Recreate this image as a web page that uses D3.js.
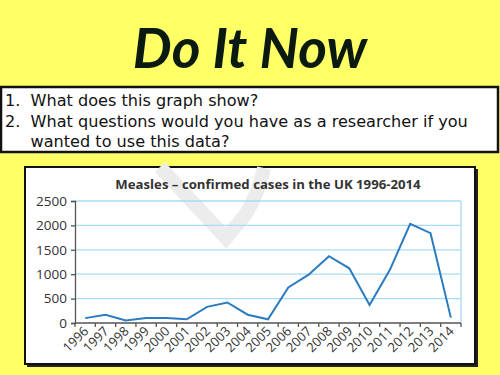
<!DOCTYPE html>
<html>
<head>
<meta charset="utf-8">
<script src="https://cdn.jsdelivr.net/npm/d3@7"></script>
<style>
  body{margin:0;padding:0;background:#ffff66;}
  svg{display:block;}
</style>
</head>
<body>
<svg id="chart"></svg>
<script>
var years = ["1996","1997","1998","1999","2000","2001","2002","2003","2004","2005",
             "2006","2007","2008","2009","2010","2011","2012","2013","2014"];
var cases = [100,170,50,100,100,75,330,420,170,75,730,990,1370,1120,370,1090,2030,1840,110];
var yTicks = [0,500,1000,1500,2000,2500];
var questions = ["1.  What does this graph show?",
                 "2.  What questions would you have as a researcher if you",
                 "     wanted to use this data?"];

var width = 500, height = 375;
var svg = d3.select("#chart")
            .attr("width",width)
            .attr("height",height);

svg.append("rect")
   .attr("width",width).attr("height",height)
   .attr("fill","#ffff66");

// heading
svg.append("text")
   .attr("x",250)
   .attr("y",68)
   .attr("text-anchor","middle")
   .attr("font-family","Lato, 'DejaVu Sans', sans-serif")
   .attr("font-style","italic")
   .attr("font-weight","bold")
   .attr("font-size",55)
   .attr("fill","#0a1a10")
   .text("Do It Now");

// question box
svg.append("rect")
   .attr("x",1).attr("y",87)
   .attr("width",497).attr("height",65)
   .attr("fill","white")
   .attr("stroke","#111")
   .attr("stroke-width",2.5);

svg.selectAll("text.q")
   .data(questions)
   .enter()
   .append("text")
   .classed("q",true)
   .attr("x",5)
   .attr("y",function(d,i){return 106+i*20.5;})
   .attr("font-family","'DejaVu Sans', sans-serif")
   .attr("font-size",16.1)
   .attr("fill","#111")
   .attr("xml:space","preserve")
   .style("white-space","pre")
   .text(function(d){return d;});

// chart box with shadow
svg.append("rect")
   .attr("x",27).attr("y",169)
   .attr("width",451).attr("height",198)
   .attr("fill","#222");
svg.append("rect")
   .attr("x",25).attr("y",167)
   .attr("width",450).attr("height",197)
   .attr("fill","white")
   .attr("stroke","#111")
   .attr("stroke-width",2);

// watermark
svg.append("path")
   .attr("d","M160,167 L226,238 L246,214 Q258,194 264,168")
   .attr("fill","none")
   .attr("stroke","#ececec")
   .attr("stroke-width",14)
   .attr("stroke-linejoin","miter");

var margins = {top:201,bot:323,left:75,right:461};

var xScale = d3.scaleBand()
               .domain(years)
               .range([margins.left,margins.right]);
var yScale = d3.scaleLinear()
               .domain([0,2500])
               .range([margins.bot,margins.top]);

// gridlines
svg.selectAll("line.grid")
   .data(yTicks.slice(1))
   .enter()
   .append("line")
   .classed("grid",true)
   .attr("x1",margins.left).attr("x2",margins.right)
   .attr("y1",function(d){return yScale(d);})
   .attr("y2",function(d){return yScale(d);})
   .attr("stroke","#a6dcf5")
   .attr("stroke-width",1.3);
svg.append("line")
   .attr("x1",margins.right).attr("x2",margins.right)
   .attr("y1",margins.top).attr("y2",margins.bot)
   .attr("stroke","#a6dcf5")
   .attr("stroke-width",1.3);

// title
svg.append("text")
   .attr("x",268)
   .attr("y",189)
   .attr("text-anchor","middle")
   .attr("font-family","'Open Sans', sans-serif")
   .attr("font-weight","bold")
   .attr("font-size",13.2)
   .attr("fill","#333")
   .text("Measles \u2013 confirmed cases in the UK 1996-2014");

// y axis
var yAxis = d3.axisLeft(yScale).tickValues(yTicks).tickFormat(d3.format("d"))
              .tickSize(4).tickPadding(4);
var gy = svg.append("g")
   .attr("transform","translate("+margins.left+",0)")
   .call(yAxis);
gy.select(".domain").attr("stroke","#555").attr("stroke-width",1.3);
gy.selectAll(".tick line").attr("stroke","#555").attr("stroke-width",1.3);
gy.selectAll("text")
  .attr("font-family","'Open Sans', sans-serif")
  .attr("font-size",13.5)
  .attr("fill","#333");

// x axis: ticks at band boundaries
var boundaries = years.map(function(d){return xScale(d);}).concat([margins.right]);
svg.append("line")
   .attr("x1",margins.left).attr("x2",margins.right)
   .attr("y1",margins.bot).attr("y2",margins.bot)
   .attr("stroke","#555").attr("stroke-width",1.3);
svg.selectAll("line.xtick")
   .data(boundaries)
   .enter()
   .append("line")
   .classed("xtick",true)
   .attr("x1",function(d){return d;}).attr("x2",function(d){return d;})
   .attr("y1",margins.bot).attr("y2",margins.bot+4)
   .attr("stroke","#555").attr("stroke-width",1.3);
svg.selectAll("text.xlab")
   .data(years)
   .enter()
   .append("text")
   .classed("xlab",true)
   .attr("text-anchor","end")
   .attr("font-family","'Open Sans', sans-serif")
   .attr("font-size",13)
   .attr("fill","#333")
   .attr("transform",function(d){
     var cx = xScale(d)+xScale.bandwidth()/2+4;
     return "translate("+cx+","+(margins.bot+9)+") rotate(-45)";
   })
   .text(function(d){return d;});

// line
var line = d3.line()
             .x(function(d,i){return xScale(years[i])+xScale.bandwidth()/2;})
             .y(function(d){return yScale(d);});
svg.append("path")
   .datum(cases)
   .attr("d",line)
   .attr("fill","none")
   .attr("stroke","#2b7bc0")
   .attr("stroke-width",2);
</script>
</body>
</html>
